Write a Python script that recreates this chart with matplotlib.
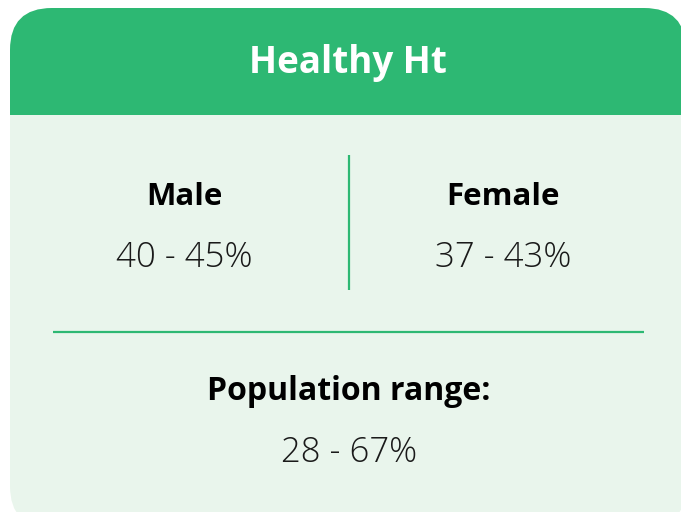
import matplotlib.pyplot as plt
from matplotlib.patches import FancyBboxPatch, Rectangle

# card content
title = "Healthy Ht"
groups = ["Male", "Female"]
group_ranges = ["40 - 45%", "37 - 43%"]
pop_label = "Population range:"
pop_range = "28 - 67%"

green = "#2db873"
light = "#e9f5ec"

plt.rcParams['font.family'] = ['Open Sans', 'DejaVu Sans']

fig = plt.figure(figsize=(6.81, 5.12), dpi=100)
ax = fig.add_axes([0, 0, 1, 1])
ax.set_xlim(0, 681)
ax.set_ylim(512, 0)
ax.axis('off')

# card outline (runs past right and bottom edge like the source)
card = FancyBboxPatch((10, 8), 676, 520, boxstyle="round,pad=0,rounding_size=42",
                      facecolor=light, edgecolor='none')
ax.add_patch(card)
header = Rectangle((0, 0), 700, 115, facecolor=green, edgecolor='none')
ax.add_patch(header)
header.set_clip_path(card)

ax.text(348, 73, title, color='white', fontsize=26.5, fontweight='bold',
        ha='center', va='baseline')

xs = [184, 503]
for x, g, r in zip(xs, groups, group_ranges):
    ax.text(x, 205, g, fontsize=22.5, fontweight='bold', ha='center', va='baseline')
    ax.text(x, 267, r, fontsize=25, fontweight='light', ha='center', va='baseline',
            color='#1a1a1a')

# dividers
ax.plot([349, 349], [155, 290], color=green, lw=1.6, solid_capstyle='butt')
ax.plot([53, 644], [332, 332], color=green, lw=1.6, solid_capstyle='butt')

ax.text(349, 400, pop_label, fontsize=23, fontweight='bold', ha='center', va='baseline')
ax.text(349, 462, pop_range, fontsize=25, fontweight='light', ha='center', va='baseline',
        color='#1a1a1a')

fig.savefig("out.png", dpi=100)
